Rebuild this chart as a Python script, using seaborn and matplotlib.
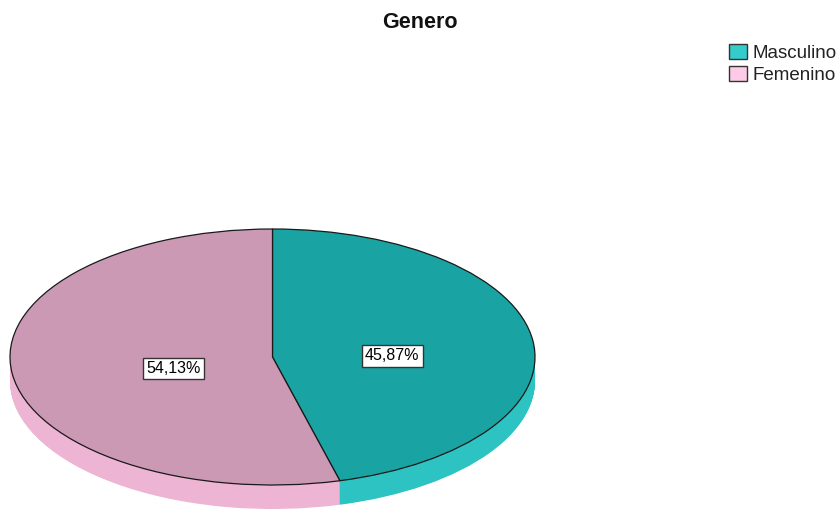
import matplotlib
matplotlib.use("Agg")
import matplotlib.pyplot as plt
from matplotlib.patches import Patch
import seaborn as sns
import numpy as np

# Dados
categorias = ["Masculino", "Femenino"]
porcentagens = [45.87, 54.13]

# Cores (topo, lateral 3D, legenda)
cores_topo = ["#1AA3A3", "#CC99B5"]
cores_lado = ["#2DC3C3", "#EDB4D3"]
cores_legenda = ["#36CBCB", "#FDCBE5"]

sns.set_theme(style="white")
plt.rcParams['font.family'] = ['Liberation Sans', 'DejaVu Sans']

W, H = 839, 511
fig = plt.figure(figsize=(W / 100, H / 100), dpi=100)
ax = fig.add_axes([0, 0, 1, 1])

# Elipse: centro (272.5, 357) px, raios 262.5 x 128 px
cx, cy, rx, ry = 272.5, 357, 262.5, 128
profundidade = 24 / ry

# Lateral 3D: pilha de pizzas deslocadas para baixo
for k in np.linspace(profundidade, 0.005, 40):
    ax.pie(porcentagens, colors=cores_lado, startangle=90, counterclock=False,
           center=(0, -k), radius=1, wedgeprops=dict(linewidth=0))

# Topo
fatias, _, textos = ax.pie(
    porcentagens, colors=cores_topo, startangle=90, counterclock=False,
    radius=1, autopct=lambda p: f"{p:.2f}%".replace(".", ","),
    pctdistance=0.42,
    wedgeprops=dict(edgecolor="#1a1a1a", linewidth=0.9),
    textprops=dict(fontsize=11.5, color="black"))

# ajuste de posicao dos rotulos (distancia radial por fatia)
dist_rotulo = [0.46, 0.38]
for w, t, d in zip(fatias, textos, dist_rotulo):
    ang = np.deg2rad((w.theta1 + w.theta2) / 2)
    t.set_position((d * np.cos(ang), d * np.sin(ang) * 0.9 - 0.045))
    t.set_bbox(dict(boxstyle="square,pad=0.2", fc="white", ec="#333333", lw=1))

ax.set_aspect("auto")
ax.set_xlim((0 - cx) / rx, (W - cx) / rx)
ax.set_ylim((cy - H) / ry, cy / ry)
ax.axis("off")

fig.text(0.5, 1 - 22 / H, "Genero", ha="center", va="center",
         fontsize=15.5, fontweight="bold", color="#111111")

alcas = [Patch(facecolor=c, edgecolor="#333333", linewidth=1) for c in cores_legenda]
fig.legend(alcas, categorias, loc="upper left", bbox_to_anchor=(729 / W, 1 - 44 / H),
           frameon=False, fontsize=13.5, handlelength=0.95, handleheight=0.85,
           handletextpad=0.3, labelspacing=0.2, borderpad=0, borderaxespad=0,
           labelcolor="#222222")

fig.savefig("out.png", dpi=100)
